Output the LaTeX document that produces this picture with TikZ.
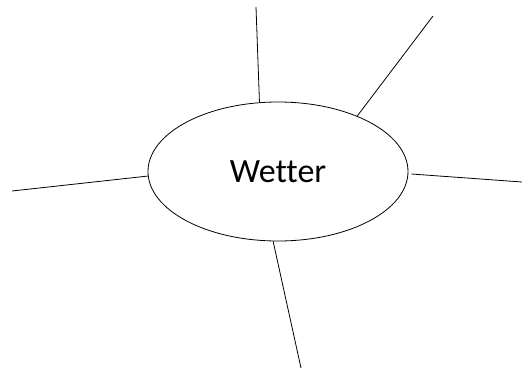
\documentclass[tikz,border=0pt]{standalone}
\usepackage{fontspec}
\setmainfont[Ligatures=NoCommon]{Carlito}
\usetikzlibrary{shapes.geometric,positioning}
\tikzset{
  topic/.style={ellipse, draw, line width=0.8pt, minimum width=260pt,
    minimum height=139pt, inner sep=0pt, font=\fontsize{34}{37}\selectfont},
  spoke/.style={line width=0.8pt}
}
\begin{document}
\begin{tikzpicture}[x=1pt, y=-1pt]
        \useasboundingbox (0,0) rectangle (522,370);
        \node[topic]  (w)  at (278,171.5) {Wetter};

        \coordinate (top)   at (256,7);
        \coordinate (ne)    at (433,16);
        \coordinate (east)  at (522,182);
        \coordinate (south) at (301,368);
        \coordinate (west)  at (12,191);

        \draw[spoke] (w.105)  -- (top);
        \draw[spoke] (w.35)   -- (ne);
        \draw[spoke, shorten <=3pt] (w.-1.5) -- (east);
        \draw[spoke] (w.-94)  -- (south);
        \draw[spoke] (w.182.4) -- (west);
      \end{tikzpicture}
\end{document}
